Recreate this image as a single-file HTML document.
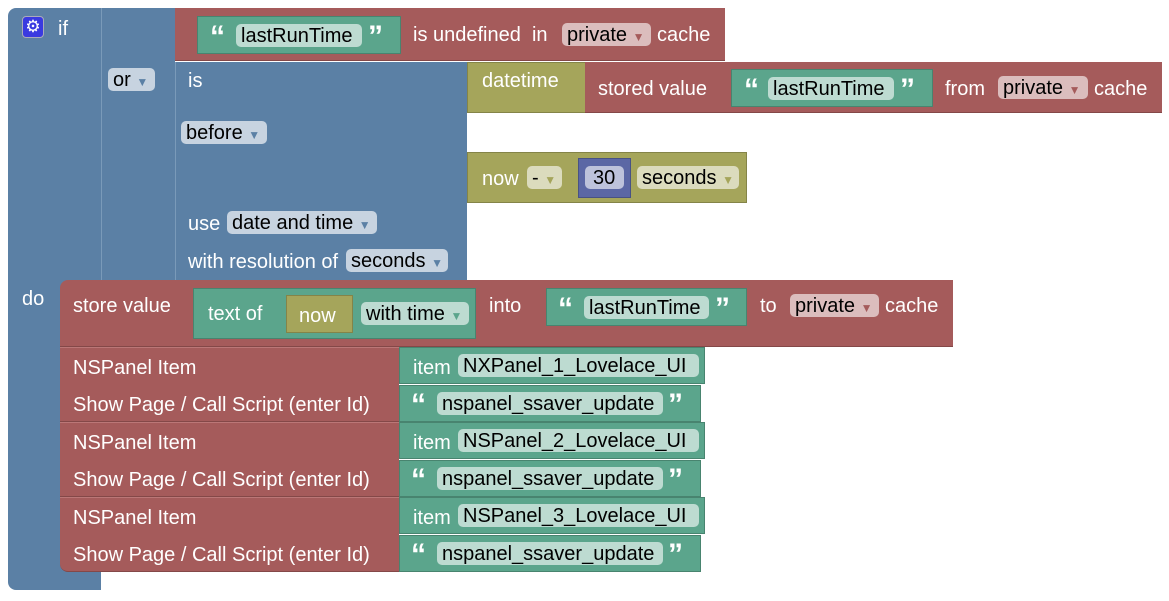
<!DOCTYPE html>
<html><head><meta charset="utf-8"><style>
body{margin:0;width:1169px;height:601px;background:#fff;position:relative;overflow:hidden;font-family:"Liberation Sans",sans-serif;font-size:20px;}
div{position:absolute;box-sizing:border-box;}
.b{background:#5b80a5;}
.r{background:#a55b5b;border-bottom:1px solid #844848;}
.t{background:#5ba58c;border:1px solid #48846f;}
.o{background:#a5a55b;border:1px solid #848448;}
.p{background:#5b67a5;border:1px solid #485284;}
.l{color:#fff;white-space:nowrap;line-height:24px;margin-top:2px;}
.f{border-radius:5px;color:#000;white-space:nowrap;line-height:24px;height:23px;padding:0 5px;}
.fb{background:#c7d3e0;}
.fr{background:#dbbdbd;}
.ft{background:#bddbd1;}
.fo{background:#dbdbbd;}
.fp{background:#bdc2db;}
.a{font-size:12px;}
.ab{color:#5b80a5}.ar{color:#a55b5b}.at{color:#5ba58c}.ao{color:#a5a55b}
.q{color:#fff;font-family:"Liberation Sans",sans-serif;font-weight:bold;font-size:30px;line-height:30px;}
</style></head><body>
<div class="b" style="left:8px;top:8px;width:93px;height:582px;border-radius:8px 0 0 8px;"></div>
<div class="b" style="left:101px;top:8px;width:74px;height:272px;border-left:1px solid #7a9ab9;"></div>
<div class="b" style="left:175px;top:62px;width:292px;height:218px;border-left:1px solid #7a9ab9;"></div>
<div style="left:22px;top:16px;width:22px;height:22px;background:#3a3ae0;border-radius:4px;border:1px solid #aab;color:#fff;font-size:17px;line-height:20px;text-align:center;">⚙</div>
<div class="l" style="left:58px;top:15px;">if</div>
<div class="l" style="left:22px;top:285px;">do</div>
<div class="f fb" style="left:108px;top:68px;width:47px;">or <span class="a ab">▼</span></div>
<div class="l" style="left:188px;top:67px;">is</div>
<div class="f fb" style="left:181px;top:121px;width:86px;">before <span class="a ab">▼</span></div>
<div class="l" style="left:188px;top:210px;">use</div>
<div class="f fb" style="left:227px;top:211px;width:150px;">date and time <span class="a ab">▼</span></div>
<div class="l" style="left:188px;top:248px;">with resolution of</div>
<div class="f fb" style="left:346px;top:249px;width:102px;">seconds <span class="a ab">▼</span></div>

<div class="r" style="left:175px;top:8px;width:550px;height:53px;"></div>
<div class="t" style="left:197px;top:16px;width:204px;height:38px;"></div>
<div class="q" style="left:210px;top:22px;">“</div>
<div class="f ft" style="left:236px;top:24px;width:126px;">lastRunTime</div>
<div class="q" style="left:368px;top:22px;">”</div>
<div class="l" style="left:413px;top:21px;">is undefined &nbsp;in</div>
<div class="f fr" style="left:562px;top:23px;width:89px;">private <span class="a ar">▼</span></div>
<div class="l" style="left:657px;top:21px;">cache</div>

<div class="o" style="left:467px;top:62px;width:119px;height:51px;"></div>
<div class="l" style="left:482px;top:67px;">datetime</div>
<div class="r" style="left:585px;top:62px;width:577px;height:51px;"></div>
<div class="t" style="left:731px;top:69px;width:202px;height:38px;"></div>
<div class="q" style="left:744px;top:75px;">“</div>
<div class="f ft" style="left:768px;top:77px;width:126px;">lastRunTime</div>
<div class="q" style="left:900px;top:75px;">”</div>
<div class="l" style="left:598px;top:75px;">stored value</div>
<div class="l" style="left:945px;top:75px;">from</div>
<div class="f fr" style="left:998px;top:76px;width:90px;">private <span class="a ar">▼</span></div>
<div class="l" style="left:1094px;top:75px;">cache</div>

<div class="o" style="left:467px;top:152px;width:280px;height:51px;"></div>
<div class="l" style="left:482px;top:165px;">now</div>
<div class="f fo" style="left:527px;top:166px;width:35px;">- <span class="a ao">▼</span></div>
<div class="p" style="left:578px;top:158px;width:53px;height:40px;"></div>
<div class="f fp" style="left:585px;top:166px;width:39px;padding:0 0 0 8px;">30</div>
<div class="f fo" style="left:637px;top:166px;width:102px;">seconds <span class="a ao">▼</span></div>

<div class="r" style="left:60px;top:280px;width:893px;height:67px;border-radius:8px 0 0 0;"></div>
<div class="l" style="left:73px;top:292px;">store value</div>
<div class="t" style="left:193px;top:288px;width:283px;height:51px;"></div>
<div class="l" style="left:208px;top:300px;">text of</div>
<div class="o" style="left:286px;top:295px;width:67px;height:38px;"></div>
<div class="l" style="left:299px;top:302px;">now</div>
<div class="f ft" style="left:361px;top:302px;width:108px;">with time <span class="a at">▼</span></div>
<div class="l" style="left:489px;top:292px;">into</div>
<div class="t" style="left:546px;top:288px;width:201px;height:38px;"></div>
<div class="q" style="left:558px;top:294px;">“</div>
<div class="f ft" style="left:584px;top:296px;width:125px;">lastRunTime</div>
<div class="q" style="left:715px;top:294px;">”</div>
<div class="l" style="left:760px;top:292px;">to</div>
<div class="f fr" style="left:790px;top:294px;width:89px;">private <span class="a ar">▼</span></div>
<div class="l" style="left:885px;top:292px;">cache</div>

<div class="r" style="left:60px;top:347px;width:339px;height:75px;border-top:1px solid #b77;"></div>
<div class="r" style="left:60px;top:422px;width:339px;height:75px;border-top:1px solid #b77;"></div>
<div class="r" style="left:60px;top:497px;width:339px;height:75px;border-top:1px solid #b77;border-radius:0 0 0 8px;"></div>

<div class="l" style="left:73px;top:354px;">NSPanel Item</div>
<div class="l" style="left:73px;top:391px;">Show Page / Call Script (enter Id)</div>
<div class="t" style="left:399px;top:347px;width:306px;height:37px;"></div>
<div class="l" style="left:413px;top:354px;">item</div>
<div class="f ft" style="left:458px;top:354px;width:241px;">NXPanel_1_Lovelace_UI</div>
<div class="t" style="left:399px;top:385px;width:302px;height:37px;"></div>
<div class="q" style="left:411px;top:390px;">“</div>
<div class="f ft" style="left:437px;top:392px;width:226px;">nspanel_ssaver_update</div>
<div class="q" style="left:668px;top:390px;">”</div>

<div class="l" style="left:73px;top:429px;">NSPanel Item</div>
<div class="l" style="left:73px;top:466px;">Show Page / Call Script (enter Id)</div>
<div class="t" style="left:399px;top:422px;width:306px;height:37px;"></div>
<div class="l" style="left:413px;top:429px;">item</div>
<div class="f ft" style="left:458px;top:429px;width:241px;">NSPanel_2_Lovelace_UI</div>
<div class="t" style="left:399px;top:460px;width:302px;height:37px;"></div>
<div class="q" style="left:411px;top:465px;">“</div>
<div class="f ft" style="left:437px;top:467px;width:226px;">nspanel_ssaver_update</div>
<div class="q" style="left:668px;top:465px;">”</div>

<div class="l" style="left:73px;top:504px;">NSPanel Item</div>
<div class="l" style="left:73px;top:541px;">Show Page / Call Script (enter Id)</div>
<div class="t" style="left:399px;top:497px;width:306px;height:37px;"></div>
<div class="l" style="left:413px;top:504px;">item</div>
<div class="f ft" style="left:458px;top:504px;width:241px;">NSPanel_3_Lovelace_UI</div>
<div class="t" style="left:399px;top:535px;width:302px;height:37px;"></div>
<div class="q" style="left:411px;top:540px;">“</div>
<div class="f ft" style="left:437px;top:542px;width:226px;">nspanel_ssaver_update</div>
<div class="q" style="left:668px;top:540px;">”</div>
</body></html>
